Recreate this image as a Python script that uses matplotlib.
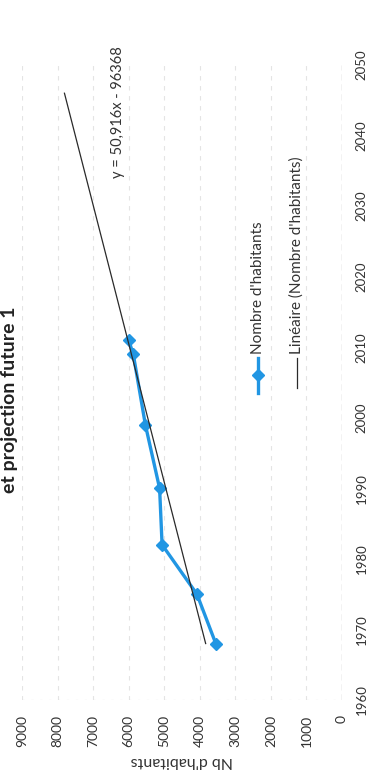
import matplotlib
matplotlib.use("Agg")
import matplotlib.pyplot as plt
from matplotlib.lines import Line2D
import numpy as np

plt.rcParams["font.family"] = ["Lato", "DejaVu Sans"]

# Census population of the commune
years = [1968, 1975, 1982, 1990, 1999, 2009, 2011]
population = [3550, 4080, 5060, 5130, 5530, 5870, 6000]

# Linear trend (Excel-style), projected forward
slope = 50.916
intercept = -96368
trend_years = [1968, 2046]

pop_ticks = [0, 1000, 2000, 3000, 4000, 5000, 6000, 7000, 8000, 9000]
year_ticks = [1960, 1970, 1980, 1990, 2000, 2010, 2020, 2030, 2040, 2050]

title_text = "et projection future 1"
axis_label = "Nb d'habitants"
series_label = "Nombre d'habitants"
trend_label = "Linéaire (Nombre d'habitants)"

W, H = 376, 780
fig = plt.figure(figsize=(W / 100, H / 100), dpi=100)
fig.patch.set_facecolor("white")


def fx(px):
    return px / W


def fy(py):
    return 1 - py / H


# The chart is laid out sideways: population runs right-to-left,
# years run bottom-to-top.
ax = fig.add_axes([fx(22), fy(700), fx(342) - fx(22), fy(65) - fy(700)])
ax.set_xlim(9000, 0)
ax.set_ylim(1960, 2050)
for s in ax.spines.values():
    s.set_visible(False)

for p in pop_ticks[1:]:
    ax.axvline(p, color="#e4e4e4", lw=0.8, ls=(0, (4, 5)), zorder=0)
ax.axvline(0, color="#9a9a9a", lw=0.9, ls=(0, (5, 3)), zorder=1)
ax.axhline(1960, color="#c4c4c4", lw=0.8, ls=(0, (2, 6)), zorder=1)

blue = "#2196e3"
ax.plot(population, years, color=blue, lw=2.4, marker="D", ms=6,
        mfc=blue, mec=blue, zorder=3)

ty = np.array(trend_years)
ax.plot(slope * ty + intercept, ty, color="#2a2a2a", lw=0.9, zorder=4)

ax.set_xticks(pop_ticks)
ax.set_xticklabels([str(p) for p in pop_ticks], rotation=90, fontsize=10,
                   color="#333333")
ax.tick_params(axis="x", length=0, pad=11)
ax.yaxis.tick_right()
ax.set_yticks(year_ticks)
ax.set_yticklabels([str(y) for y in year_ticks], rotation=90, va="center",
                   fontsize=9.5, color="#333333")
ax.tick_params(axis="y", length=0, pad=10)

ax.set_xlabel(axis_label, rotation=180, fontsize=11.5, color="#333333",
              labelpad=5)

# Trend equation
fig.text(fx(118), fy(178), f"y = {str(slope).replace('.', ',')}x - {abs(intercept)}",
         rotation=90, rotation_mode="anchor", ha="left", va="center",
         fontsize=10.5, color="#333333")

# Legend, drawn sideways
fig.add_artist(Line2D([fx(258), fx(258)], [fy(393), fy(358)], color=blue,
                      lw=2.4, transform=fig.transFigure))
fig.add_artist(Line2D([fx(258)], [fy(375)], color=blue, marker="D", ms=6,
                      transform=fig.transFigure))
fig.text(fx(258), fy(354), series_label, rotation=90, rotation_mode="anchor",
         ha="left", va="center", fontsize=11, color="#333333")
fig.add_artist(Line2D([fx(297), fx(297)], [fy(388), fy(358)], color="#2a2a2a",
                      lw=0.9, transform=fig.transFigure))
fig.text(fx(297), fy(354), trend_label, rotation=90, rotation_mode="anchor",
         ha="left", va="center", fontsize=11, color="#333333")

# Title (second line, along the page edge)
fig.text(fx(15), fy(400), title_text, rotation=90, rotation_mode="anchor",
         ha="center", va="baseline", fontsize=14, fontweight="bold",
         color="#222222")

fig.savefig("out.png", dpi=100)
